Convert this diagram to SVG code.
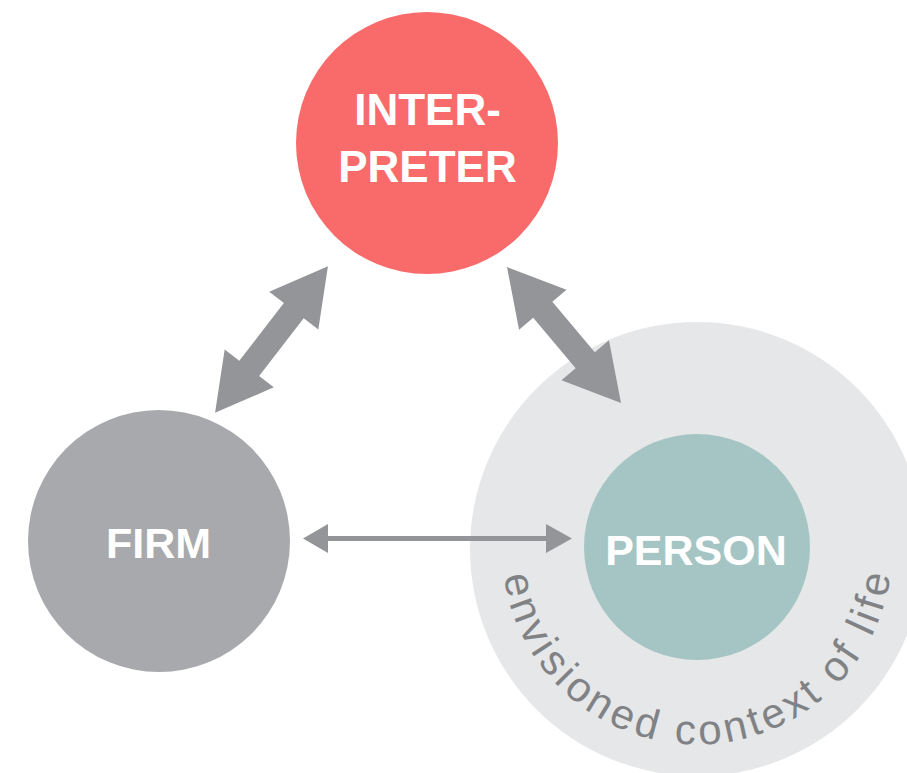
<svg xmlns="http://www.w3.org/2000/svg" width="907" height="773" viewBox="0 0 907 773">
<style>
.arrow{fill:#939598}
.label{font-family:"Liberation Sans",Arial,sans-serif;font-weight:bold;fill:#ffffff;text-anchor:middle}
.ctx{font-family:"Liberation Sans",Arial,sans-serif;font-size:42px;fill:#808285;letter-spacing:4px}
</style>
<defs>
<path id="arc" d="M 503.9 576 A 195 195 0 1 0 866 452"/>
</defs>
<rect width="907" height="773" fill="#ffffff"/>
<g id="context">
<circle cx="697" cy="549" r="227" fill="#e6e7e8"/>
<text class="ctx"><textPath href="#arc">envisioned context of life</textPath></text>
</g>
<g id="interpreter">
<circle cx="427" cy="143" r="131" fill="#f96b6b"/>
<text class="label" x="427.5" y="125" font-size="44">INTER-</text>
<text class="label" x="427.5" y="182" font-size="44">PRETER</text>
</g>
<g id="firm">
<circle cx="159" cy="541" r="131" fill="#a7a9ac"/>
<text class="label" x="158.5" y="558" font-size="43">FIRM</text>
</g>
<g id="person">
<circle cx="697" cy="547" r="113" fill="#a5c5c4"/>
<text class="label" x="696" y="565" font-size="43">PERSON</text>
</g>
<g id="connectors">
<polygon class="arrow" transform="translate(271.5,339.5) rotate(-52.4)" points="92.5,0 36.5,-31 36.5,-12.5 -36.5,-12.5 -36.5,-31 -92.5,0 -36.5,31 -36.5,12.5 36.5,12.5 36.5,31"/>
<polygon class="arrow" transform="translate(564,335) rotate(50)" points="88.7,0 33,-31 33,-12.5 -33,-12.5 -33,-31 -88.7,0 -33,31 -33,12.5 33,12.5 33,31"/>
<polygon class="arrow" points="303,538.5 328,524 328,536 546,536 546,524 572,538.5 546,553 546,541 328,541 328,553"/>
</g>
</svg>
